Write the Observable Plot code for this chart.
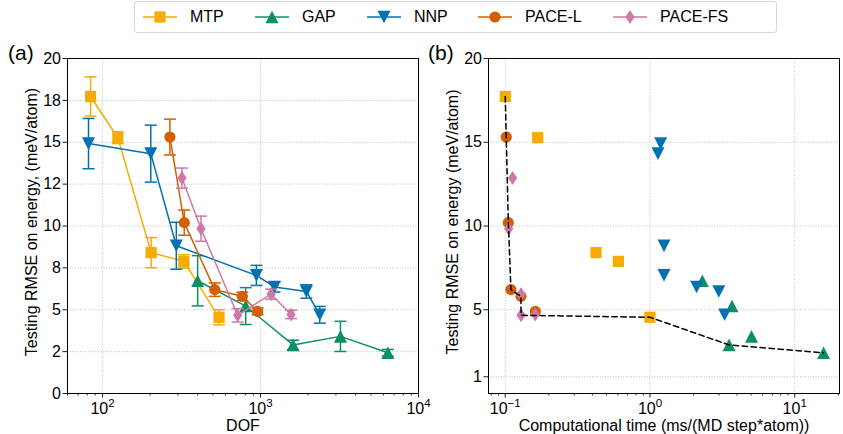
<!DOCTYPE html>
<html><head><meta charset="utf-8">
<script src="https://cdn.jsdelivr.net/npm/d3@7"></script>
<script src="https://cdn.jsdelivr.net/npm/@observablehq/plot@0.6"></script>
<style>
body{margin:0;background:#fff;font-family:"Liberation Sans",Arial,Helvetica,sans-serif;}
#wrap{position:relative;width:843px;height:434px;overflow:hidden;background:#fff;}
.panel{position:absolute;top:40px;}
.plabel{position:absolute;font-size:21px;line-height:21px;color:#000;}
#legend{position:absolute;left:134px;top:1px;width:643px;height:32px;border:1px solid #d6d6d6;border-radius:3px;box-sizing:border-box;background:#fff;}
.li{position:absolute;top:0;height:30px;display:flex;align-items:center;font-size:16px;color:#000;}
.li span{margin-left:13px;}
</style></head><body><div id="wrap"></div>
<script>
// ---------------- data ----------------
const seriesNames = ["MTP", "GAP", "NNP", "PACE-L", "PACE-FS"];
const seriesColors = ["#F6AB00", "#0C8F69", "#0072B2", "#D55E00", "#CC79A7"];

// degrees of freedom (panel a)
const dofMTP    = [84, 125, 203, 327, 546];
const dofGAP    = [400, 806, 1607, 3206, 6400];
const dofNNP    = [81.5, 202, 293, 942, 1225, 1950, 2371];
const dofPACEL  = [267, 329, 513, 767, 959];
const dofPACEFS = [318, 420, 716, 1166, 1560];

// testing RMSE on energy (meV/atom)
const rmseMTP    = [17.73, 15.27, 8.41, 7.89, 4.55];
const rmseGAP    = [6.73, 5.22, 2.9, 3.41, 2.43];
const rmseNNP    = [14.92, 14.32, 8.82, 7.05, 6.36, 6.09, 4.7];
const rmsePACEL  = [15.31, 10.2, 6.2, 5.8, 4.9];
const rmsePACEFS = [12.86, 9.84, 4.67, 5.93, 4.72];

// error bars (panel a)
const errMTP    = [1.17, 0.35, 0.9, 0.4, 0.45];
const errGAP    = [1.5, 1.1, 0.28, 0.9, 0.2];
const errNNP    = [1.5, 1.7, 1.4, 0.6, 0.3, 0.4, 0.5];
const errPACEL  = [1.07, 0.75, 0.4, 0.25, 0.2];
const errPACEFS = [0.6, 0.75, 0.4, 0.3, 0.25];

// computational time, ms/(MD step*atom) (panel b)
const timeMTP    = [0.1, 0.1675, 0.424, 0.605, 1.0];
const timeGAP    = [2.30, 3.69, 3.52, 5.03, 15.83];
const timeNNP    = [1.185, 1.136, 1.25, 1.25, 2.1, 2.99, 3.28];
const timePACEL  = [0.1016, 0.105, 0.1094, 0.1284, 0.1613];
const timePACEFS = [0.1124, 0.1055, 0.1286, 0.1286, 0.161];

// ticks (labels "base^exponent")
const xTicksA = [100, 1000, 10000];
const xTickLabelsA = ["10^2", "10^3", "10^4"];
const yTicksA = [0, 2.5, 5, 7.5, 10, 12.5, 15, 17.5, 20];
const yTickLabelsA = ["0", "2", "5", "8", "10", "12", "15", "18", "20"];
const xTicksB = [0.1, 1, 10];
const xTickLabelsB = ["10^\u22121", "10^0", "10^1"];
const yTicksB = [1, 5, 10, 15, 20];
const yTickLabelsB = ["1", "5", "10", "15", "20"];

const xLabelA = "DOF";
const yLabelA = "Testing RMSE on energy, (meV/atom)";
const xLabelB = "Computational time (ms/(MD step*atom))";
const yLabelB = "Testing RMSE on energy (meV/atom)";

// ---------------- build rows ----------------
const dofs = [dofMTP, dofGAP, dofNNP, dofPACEL, dofPACEFS];
const rmses = [rmseMTP, rmseGAP, rmseNNP, rmsePACEL, rmsePACEFS];
const errs = [errMTP, errGAP, errNNP, errPACEL, errPACEFS];
const times = [timeMTP, timeGAP, timeNNP, timePACEL, timePACEFS];
const rowsBySeries = seriesNames.map((name, s) =>
  dofs[s].map((d, i) => ({series: name, dof: d, rmse: rmses[s][i], err: errs[s][i], time: times[s][i]})));
const allRows = rowsBySeries.flat();

// Pareto front (time vs RMSE)
const sortedRows = allRows.slice().sort((a, b) => a.time - b.time || a.rmse - b.rmse);
const front = [];
let best = Infinity;
for (const r of sortedRows) { if (r.rmse <= best) { front.push(r); best = r.rmse; } }

// ---------------- symbols ----------------
const symbols = [
  {draw(c){ const h = 5.6; c.rect(-h, -h, 2*h, 2*h); }},
  {draw(c){ const w = 6.5, h = 6.3; c.moveTo(0, -h); c.lineTo(w, h); c.lineTo(-w, h); c.closePath(); }},
  {draw(c){ const w = 6.5, h = 6.3; c.moveTo(0, h); c.lineTo(w, -h); c.lineTo(-w, -h); c.closePath(); }},
  {draw(c){ const r = 5.6; c.moveTo(r, 0); c.arc(0, 0, r, 0, 2*Math.PI); }},
  {draw(c){ const w = 4.6, h = 7; c.moveTo(0, -h); c.lineTo(w, 0); c.lineTo(0, h); c.lineTo(-w, 0); c.closePath(); }}
];
const capSymbol = {draw(c){ c.moveTo(-6, 0); c.lineTo(6, 0); }};

const fontFamily = "Liberation Sans, Arial, Helvetica, sans-serif";
const gridStyle = {stroke: "#b0b0b0", strokeOpacity: 1, strokeWidth: 0.8, strokeDasharray: "1,1.6"};

function minorTicks(lo, hi) {
  const out = [];
  for (let e = Math.floor(Math.log10(lo)); e <= Math.ceil(Math.log10(hi)); e++)
    for (let m = 2; m <= 9; m++) { const v = m * Math.pow(10, e); if (v >= lo && v <= hi) out.push(v); }
  return out;
}

function superscriptify(svg) {
  svg.querySelectorAll("text").forEach(t => {
    if (t.querySelector("tspan")) return;
    const m = /^(\d+)\^(.+)$/.exec(t.textContent);
    if (!m) return;
    t.textContent = m[1];
    const ts = document.createElementNS("http://www.w3.org/2000/svg", "tspan");
    ts.setAttribute("font-size", "11.5px");
    ts.setAttribute("dy", "-7");
    ts.textContent = m[2];
    t.appendChild(ts);
  });
}

function makePanel(opt) {
  const marks = [
    Plot.gridX(opt.xTicks, gridStyle),
    Plot.gridY(opt.yTicks, gridStyle),
  ];
  marks.push(...opt.series);
  marks.push(
    Plot.frame({stroke: "black", strokeWidth: 1}),
    Plot.axisX({ticks: minorTicks(opt.xDomain[0], opt.xDomain[1]), tickSize: 2.5, tickFormat: () => "", strokeWidth: 0.8, label: null}),
    Plot.axisX({ticks: opt.xTicks, tickSize: 4.5, tickPadding: 5, strokeWidth: 0.9, label: null,
      tickFormat: d => opt.xLabels[opt.xTicks.indexOf(d)], fontSize: 16}),
    Plot.axisY({ticks: opt.yTicks, tickSize: 4.5, tickPadding: 2, strokeWidth: 0.9, label: null,
      tickFormat: d => opt.yLabels[opt.yTicks.indexOf(d)], fontSize: 16}),
    Plot.text([opt.xLabel], {frameAnchor: "bottom", text: d => d, dy: 32, lineAnchor: "middle", textAnchor: "middle", fontSize: 16}),
    Plot.text([opt.yLabel], {frameAnchor: "left", text: d => d, rotate: -90, dx: -36, dy: -4, lineAnchor: "middle", textAnchor: "middle", fontSize: 16})
  );
  const p = Plot.plot({
    width: opt.width, height: 394,
    marginLeft: 67, marginRight: opt.marginRight, marginTop: 18, marginBottom: 41,
    style: {fontSize: "16px", fontFamily, color: "black", background: "transparent", overflow: "visible"},
    x: {type: "log", domain: opt.xDomain, label: null},
    y: {type: "linear", domain: [0, 20], label: null},
    marks
  });
  superscriptify(p);
  return p;
}

// panel (a) series marks
const seriesA = [];
rowsBySeries.forEach((rows, s) => {
  const col = seriesColors[s];
  seriesA.push(
    Plot.line(rows, {x: "dof", y: "rmse", stroke: col, strokeWidth: 1.5}),
    Plot.ruleX(rows, {x: "dof", y1: d => d.rmse - d.err, y2: d => d.rmse + d.err, stroke: col, strokeWidth: 1.5}),
    Plot.dot(rows, {x: "dof", y: d => d.rmse - d.err, symbol: capSymbol, stroke: col, strokeWidth: 1.5, fill: "none"}),
    Plot.dot(rows, {x: "dof", y: d => d.rmse + d.err, symbol: capSymbol, stroke: col, strokeWidth: 1.5, fill: "none"}),
    Plot.dot(rows, {x: "dof", y: "rmse", symbol: symbols[s], fill: col, stroke: "none"})
  );
});

// panel (b) series marks
const seriesB = [];
rowsBySeries.forEach((rows, s) => {
  seriesB.push(Plot.dot(rows, {x: "time", y: "rmse", symbol: symbols[s], fill: seriesColors[s], stroke: "none"}));
});
seriesB.push(Plot.line(front, {x: "time", y: "rmse", stroke: "black", strokeWidth: 1.5, strokeDasharray: "5.5,3.5"}));

const plotA = makePanel({width: 421, marginRight: 3, xDomain: [60, 10000], xTicks: xTicksA, xLabels: xTickLabelsA,
  yTicks: yTicksA, yLabels: yTickLabelsA, xLabel: xLabelA, yLabel: yLabelA, series: seriesA});
const plotB = makePanel({width: 422, marginRight: 4, xDomain: [0.0766, 20.4], xTicks: xTicksB, xLabels: xTickLabelsB,
  yTicks: yTicksB, yLabels: yTickLabelsB, xLabel: xLabelB, yLabel: yLabelB, series: seriesB});

const wrap = document.getElementById("wrap");
const pb = document.createElement("div"); pb.className = "panel"; pb.style.left = "421px"; pb.appendChild(plotB); wrap.appendChild(pb);
const pa = document.createElement("div"); pa.className = "panel"; pa.style.left = "0px"; pa.appendChild(plotA); wrap.appendChild(pa);

const la = document.createElement("div"); la.className = "plabel"; la.style.left = "8px"; la.style.top = "42px"; la.textContent = "(a)"; wrap.appendChild(la);
const lb = document.createElement("div"); lb.className = "plabel"; lb.style.left = "428px"; lb.style.top = "42px"; lb.textContent = "(b)"; wrap.appendChild(lb);

// legend
const legend = document.createElement("div"); legend.id = "legend"; wrap.appendChild(legend);
const legendX = [8, 120, 232, 343, 478];
seriesNames.forEach((name, s) => {
  const item = document.createElement("div"); item.className = "li"; item.style.left = legendX[s] + "px";
  const svg = d3.create("svg").attr("width", 34).attr("height", 22);
  svg.append("line").attr("x1", 0).attr("x2", 34).attr("y1", 11).attr("y2", 11).attr("stroke", seriesColors[s]).attr("stroke-width", 1.5);
  svg.append("path").attr("transform", "translate(17,11)").attr("d", d3.symbol(symbols[s])()).attr("fill", seriesColors[s]);
  item.appendChild(svg.node());
  const sp = document.createElement("span"); sp.textContent = name; item.appendChild(sp);
  legend.appendChild(item);
});
</script></body></html>
